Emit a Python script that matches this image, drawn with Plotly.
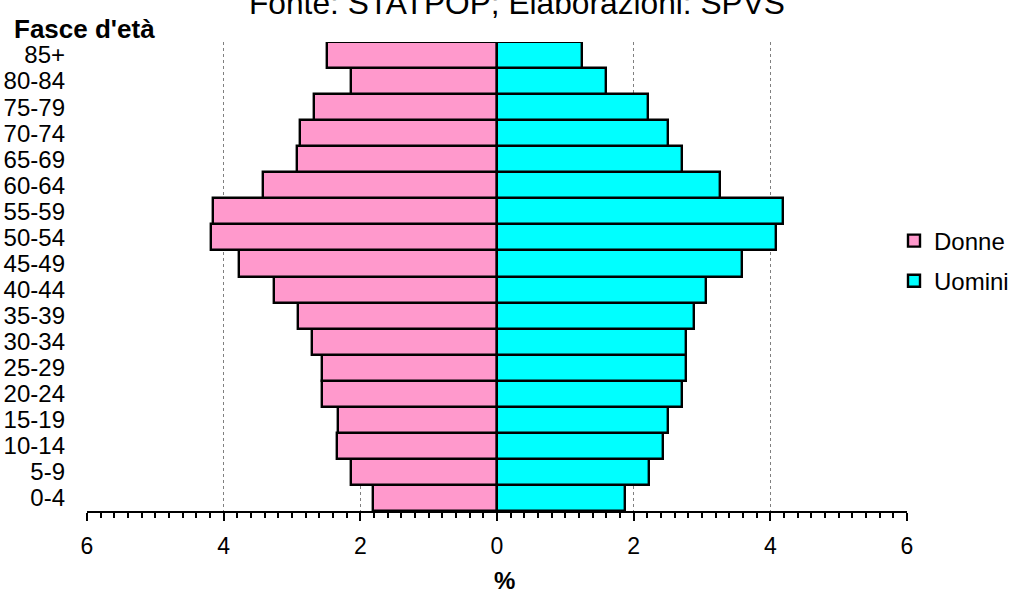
import plotly.graph_objects as go

# ---- data ----
age_groups = ["0-4", "5-9", "10-14", "15-19", "20-24", "25-29", "30-34", "35-39",
              "40-44", "45-49", "50-54", "55-59", "60-64", "65-69", "70-74",
              "75-79", "80-84", "85+"]
donne = [1.82, 2.13, 2.34, 2.33, 2.56, 2.56, 2.71, 2.91, 3.27, 3.77, 4.18, 4.15,
         3.42, 2.93, 2.89, 2.68, 2.13, 2.49]
uomini = [1.88, 2.23, 2.43, 2.50, 2.70, 2.76, 2.76, 2.89, 3.06, 3.59, 4.09, 4.18,
          3.26, 2.71, 2.50, 2.21, 1.59, 1.25]
x_tickvals = [-6, -4, -2, 0, 2, 4, 6]
x_ticktext = ["6", "4", "2", "0", "2", "4", "6"]
grid_vals = [-4, -2, 2, 4]

FONT = "Liberation Sans, Arial, sans-serif"

fig = go.Figure()
fig.add_trace(go.Bar(
    y=age_groups, x=[-v for v in donne], orientation="h", name="Donne",
    legendgroup="d",
    marker=dict(color="#FF99CC", line=dict(color="black", width=2.4)),
    customdata=donne, hovertemplate="%{y}: %{customdata}%<extra>Donne</extra>",
))
fig.add_trace(go.Bar(
    y=age_groups, x=uomini, orientation="h", name="Uomini",
    legendgroup="u",
    marker=dict(color="#00FFFF", line=dict(color="black", width=2.4)),
    hovertemplate="%{y}: %{x}%<extra>Uomini</extra>",
))
# invisible trace to carry the grid-only overlay axis
fig.add_trace(go.Scatter(x=[0], y=[age_groups[0]], xaxis="x2", mode="markers",
                         marker=dict(opacity=0), showlegend=False, hoverinfo="skip"))

fig.update_layout(
    width=1009, height=591,
    margin=dict(l=87, r=102, t=42, b=80, autoexpand=False),
    paper_bgcolor="white", plot_bgcolor="white",
    barmode="overlay", bargap=0,
    font=dict(family=FONT, color="black"),
    showlegend=True,
    legend=dict(xref="container", yref="container", x=894 / 1009, y=1 - 261 / 591,
                xanchor="left", yanchor="middle", tracegroupgap=6,
                traceorder="grouped", font=dict(size=24, family=FONT),
                bgcolor="rgba(0,0,0,0)"),
    xaxis=dict(range=[-6, 6], tickmode="array", tickvals=x_tickvals, ticktext=x_ticktext,
               showgrid=False, zeroline=False, showline=True, linecolor="black", linewidth=1.5,
               ticks="outside", ticklen=8, tickwidth=1.5, tickcolor="black",
               tickfont=dict(size=23), ticklabelstandoff=6, automargin=False,
               minor=dict(tickmode="linear", tick0=0, dtick=0.2, ticks="outside",
                          ticklen=5, tickwidth=1.5, tickcolor="black", showgrid=False),
               fixedrange=True),
    xaxis2=dict(range=[-6, 6], overlaying="x", anchor="y", side="bottom",
                tickmode="array", tickvals=grid_vals, showticklabels=False, ticks="",
                showgrid=True, gridcolor="#808080", gridwidth=1, griddash="dot",
                zeroline=False, showline=False, automargin=False),
    yaxis=dict(range=[-0.5, 17.5], categoryorder="array", categoryarray=age_groups,
               tickmode="array", tickvals=age_groups,
               showgrid=False, zeroline=False, showline=False, ticks="",
               tickfont=dict(size=24), ticklabelstandoff=21, automargin=False,
               fixedrange=True),
)

fig.add_annotation(text="Fonte: STATPOP; Elaborazioni: SPVS", xref="paper", yref="paper",
                   x=(516.5 - 87) / 820, y=(511 - 3) / 469, xanchor="center", yanchor="middle",
                   showarrow=False, font=dict(size=31.7, family=FONT, color="black"))
fig.add_annotation(text="<b>Fasce d'età</b>", xref="paper", yref="paper",
                   x=(11.5 - 87) / 820, y=(511 - 28.5) / 469, xanchor="left", yanchor="middle",
                   showarrow=False, font=dict(size=26, family=FONT, color="black"))
fig.add_annotation(text="<b>%</b>", xref="paper", yref="paper",
                   x=(504 - 87) / 820, y=(511 - 580) / 469, xanchor="center", yanchor="middle",
                   showarrow=False, font=dict(size=24, family=FONT, color="black"))

fig.write_html("out.html", config={"displayModeBar": False},
               post_script="document.body.style.margin='0';")
